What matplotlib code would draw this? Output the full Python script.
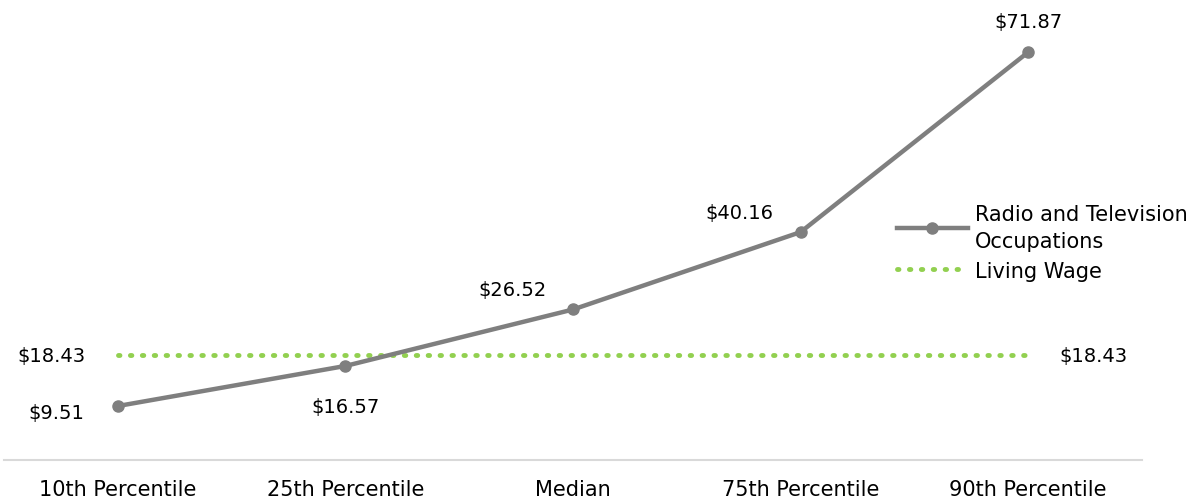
import matplotlib.pyplot as plt

categorias = ['10th Percentile', '25th Percentile', 'Median', '75th Percentile', '90th Percentile']
salarios = [9.51, 16.57, 26.52, 40.16, 71.87]
salario_digno = [18.43, 18.43, 18.43, 18.43, 18.43]

plt.rcParams['font.family'] = ['DejaVu Sans']

fig = plt.figure(figsize=(11.99, 5.02), dpi=100)
ax = fig.add_axes([4 / 1199, 41 / 502, 1138 / 1199, 454 / 502])

x = range(len(categorias))
ax.plot(x, salario_digno, color='#92d050', linewidth=3.5, linestyle=(0, (0.3, 2.15)),
        dash_capstyle='round', label='Living Wage', zorder=2)
ax.plot(x, salarios, color='#7f7f7f', linewidth=3.2, marker='o', markersize=8,
        label='Radio and Television\nOccupations', zorder=3)

# rótulos dos valores (deslocamento em pixels)
desloc = [(-61, -6), (0, -41), (-60, 20), (-61, 20), (0, 31)]
for i, v in enumerate(salarios):
    dx, dy = desloc[i]
    ax.annotate('${:.2f}'.format(v), xy=(i, v), xytext=(dx, dy), textcoords='offset pixels',
                ha='center', va='center', fontsize=14)
ax.annotate('${:.2f}'.format(salario_digno[0]), xy=(0, salario_digno[0]), xytext=(-66, 0),
            textcoords='offset pixels', ha='center', va='center', fontsize=14)
ax.annotate('${:.2f}'.format(salario_digno[-1]), xy=(4, salario_digno[-1]), xytext=(65, 0),
            textcoords='offset pixels', ha='center', va='center', fontsize=14)

ax.set_xlim(-0.5, 4.5)
ax.set_ylim(0, 80)
ax.set_xticks(list(x))
ax.set_xticklabels(categorias, fontsize=15)
ax.tick_params(axis='x', length=0, pad=14)
ax.set_yticks([])
for lado in ['top', 'right', 'left']:
    ax.spines[lado].set_visible(False)
ax.spines['bottom'].set_color('#d9d9d9')
ax.spines['bottom'].set_linewidth(1.5)

h, l = ax.get_legend_handles_labels()
leg = fig.legend(h[::-1], l[::-1], loc='upper left', bbox_to_anchor=(897 / 1199, 1 - 205 / 502),
                 frameon=False, fontsize=15, handlelength=3.4, handletextpad=0.35, labelspacing=0.45,
                 borderaxespad=0, borderpad=0)
leg.get_texts()[0].set_linespacing(1.45)

fig.savefig('out.png', dpi=100)
